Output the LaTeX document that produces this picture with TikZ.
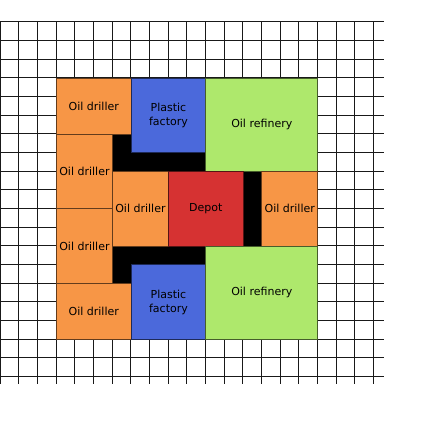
\documentclass[tikz,border=0pt]{standalone}
\usepackage{fontspec}
\setmainfont{DejaVu Sans}
\definecolor{driller}{RGB}{247,150,70}
\definecolor{plastic}{RGB}{75,105,219}
\definecolor{refinery}{RGB}{174,232,108}
\definecolor{depot}{RGB}{214,50,50}
\begin{document}
\begin{tikzpicture}[x=1pt,y=-1pt]
\def\s{18.667}
\def\oy{21.667}
\tikzset{
  gridline/.style={draw=black!90,line width=0.85pt},
  road/.style={fill=black},
  sz/.style 2 args={minimum width={#1*\s}, minimum height={#2*\s}},
  bld/.style={anchor=north west, inner sep=0pt, line width=0.9pt, align=center,
    font=\fontsize{11}{14}\selectfont, text=black},
  drl/.style={bld, fill=driller, draw=driller!40!black},
  pla/.style={bld, fill=plastic, draw=plastic!40!black},
  ref/.style={bld, fill=refinery, draw=refinery!40!black},
  dep/.style={bld, fill=depot, draw=depot!40!black},
}
\useasboundingbox (0,0) rectangle (437,437);
% grid
\foreach \k in {0,...,19} \draw[gridline] (0,{\oy+\k*\s}) -- (384,{\oy+\k*\s});
\foreach \k in {0,...,20} \draw[gridline] ({\k*\s},\oy) -- ({\k*\s},384);
% roads
\fill[road] ({6*\s},{\oy+6*\s}) rectangle ({7*\s},{\oy+7*\s});
\fill[road] ({6*\s},{\oy+7*\s}) rectangle ({11*\s},{\oy+8*\s});
\fill[road] ({13*\s},{\oy+8*\s}) rectangle ({14*\s},{\oy+12*\s});
\fill[road] ({6*\s},{\oy+12*\s}) rectangle ({11*\s},{\oy+13*\s});
\fill[road] ({6*\s},{\oy+13*\s}) rectangle ({7*\s},{\oy+14*\s});
% buildings
\node[drl, sz={4}{3}] (d1) at ({3*\s},{\oy+3*\s}) {Oil driller};
\node[pla, sz={4}{4}] (p1) at ({7*\s},{\oy+3*\s}) {Plastic\\factory};
\node[ref, sz={6}{5}] (r1) at ({11*\s},{\oy+3*\s}) {Oil refinery};
\node[drl, sz={3}{4}] (d2) at ({3*\s},{\oy+6*\s}) {Oil driller};
\node[drl, sz={3}{4}] (d3) at ({3*\s},{\oy+10*\s}) {Oil driller};
\node[drl, sz={4}{3}] (d4) at ({3*\s},{\oy+14*\s}) {Oil driller};
\node[drl, sz={3}{4}] (d5) at ({6*\s},{\oy+8*\s}) {Oil driller};
\node[dep, sz={4}{4}] (dp) at ({9*\s},{\oy+8*\s}) {Depot};
\node[drl, sz={3}{4}] (d6) at ({14*\s},{\oy+8*\s}) {Oil driller};
\node[pla, sz={4}{4}] (p2) at ({7*\s},{\oy+13*\s}) {Plastic\\factory};
\node[ref, sz={6}{5}] (r2) at ({11*\s},{\oy+12*\s}) {Oil refinery};
\end{tikzpicture}
\end{document}
